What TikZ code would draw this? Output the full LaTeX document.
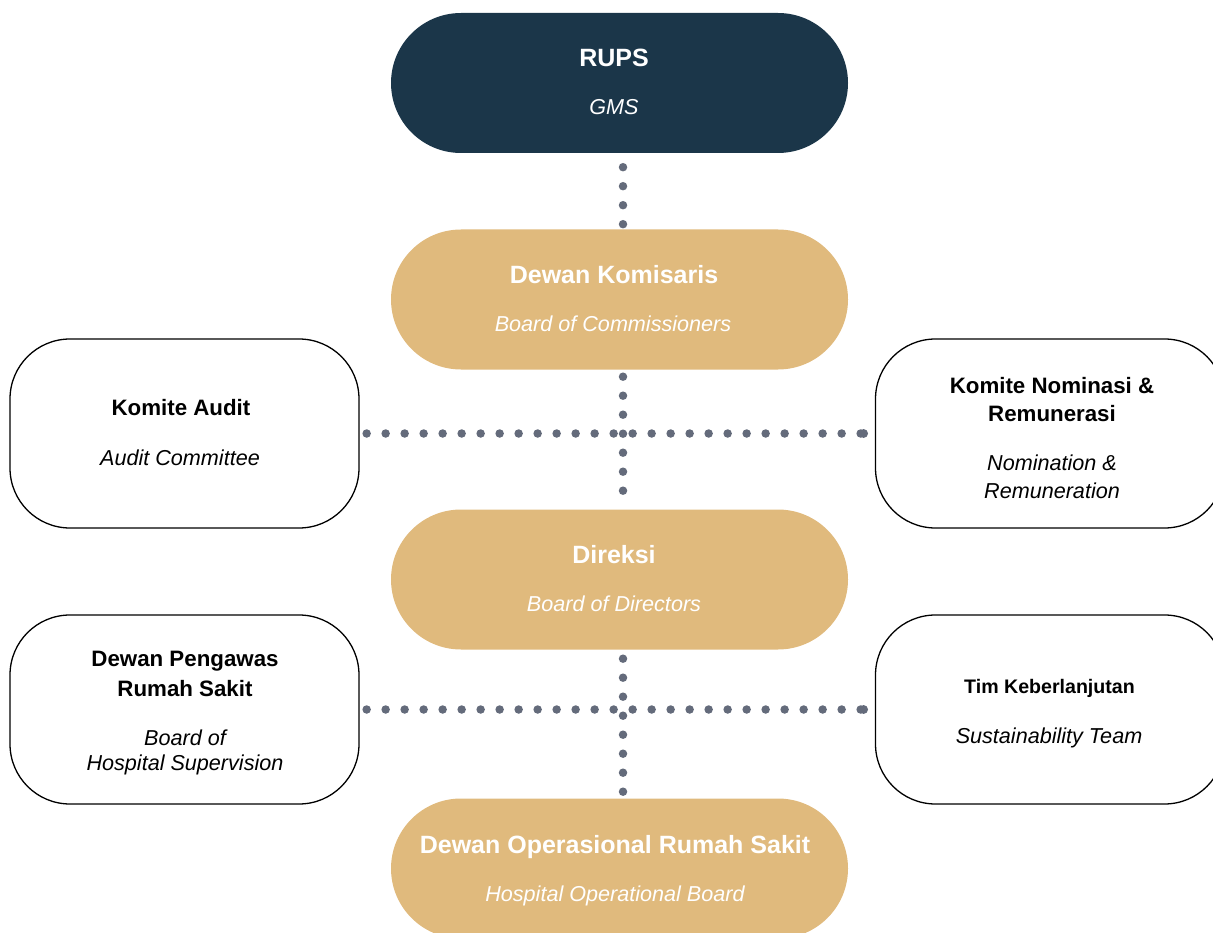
\documentclass[tikz,border=0pt]{standalone}
\usepackage{fontspec}
\setmainfont{Liberation Sans}
\usetikzlibrary{backgrounds,arrows.meta}
\definecolor{navy}{HTML}{1B3649}
\definecolor{gold}{HTML}{E0BA7D}
\definecolor{dotgray}{HTML}{646B7B}
\tikzset{
  pill/.style={rectangle, rounded corners=70pt, minimum width=457pt, minimum height=140pt, inner sep=0pt},
  navypill/.style={pill, fill=navy},
  goldpill/.style={pill, fill=gold},
  sidebox/.style={rectangle, draw=black, line width=1.3pt, fill=white, rounded corners=60pt,
                  minimum width=349pt, minimum height=189pt, inner sep=0pt},
  txt/.style={anchor=base, inner sep=0pt},
  wtitle/.style={txt, text=white, font=\fontsize{25}{28}\selectfont\bfseries},
  wsub/.style={txt, text=white, font=\fontsize{21.6}{26}\selectfont\itshape},
  btitle/.style={txt, text=black, font=\fontsize{22.3}{28}\selectfont\bfseries},
  bsmall/.style={txt, text=black, font=\fontsize{19.6}{24}\selectfont\bfseries},
  bsub/.style={txt, text=black, font=\fontsize{21.6}{28}\selectfont\itshape},
  dotline/.style={draw=dotgray, line width=8.5pt, line cap=round, dash pattern=on 0pt off 19pt},
}
\begin{document}
\begin{tikzpicture}[x=1pt, y=-1pt]
  \useasboundingbox (0,0) rectangle (1213,933);
  \clip (0,0) rectangle (1213,933);

  % main chain
  \node[navypill] (rups) at (619.5,83) {};
  \node[goldpill] (kom)  at (619.5,299.5) {};
  \node[goldpill] (dir)  at (619.5,579.5) {};
  \node[goldpill] (dors) at (619.5,868.5) {};

  % committees and supporting bodies
  \node[sidebox] (audit) at (184.5,433.5) {};
  \node[sidebox] (nom)   at (1050,433.5) {};
  \node[sidebox] (peng)  at (184.5,709.5) {};
  \node[sidebox] (tim)   at (1050,709.5) {};

  \coordinate (spine) at (623,0);

  % dotted connectors
  \begin{scope}[on background layer]
    \draw[dotline, dash phase=5pt]  (rups.south -| spine) -- (kom.north -| spine);
    \draw[dotline, dash phase=12pt] (kom.south -| spine)  -- (dir.north -| spine);
    \draw[dotline, dash phase=10pt] (dir.south -| spine)  -- (dors.north -| spine);
    \draw[dotline, dash phase=12pt, shorten >=7pt, -{Circle[length=8.5pt,width=8.5pt]}] (audit.east) -- (nom.west);
    \draw[dotline, dash phase=12pt, shorten >=7pt, -{Circle[length=8.5pt,width=8.5pt]}] (peng.east) -- (tim.west);
  \end{scope}

  % labels
  \node[wtitle] (rupsT) at (614,67)  {RUPS};
  \node[wsub]   (rupsS) at (614,115) {GMS};
  \node[wtitle] (komT)  at (614,284) {Dewan Komisaris};
  \node[wsub]   (komS)  at (613,331) {Board of Commissioners};
  \node[wtitle] (dirT)  at (614,563) {Direksi};
  \node[wsub]   (dirS)  at (614,611) {Board of Directors};
  \node[wtitle] (dorsT) at (615,853) {Dewan Operasional Rumah Sakit};
  \node[wsub]   (dorsS) at (615,901) {Hospital Operational Board};

  \node[btitle] (auditT) at (181,415) {Komite Audit};
  \node[bsub]   (auditS) at (180,465) {Audit Committee};

  \node[btitle] (nomT1) at (1052,393) {Komite Nominasi \&};
  \node[btitle] (nomT2) at (1052,421) {Remunerasi};
  \node[bsub]   (nomS1) at (1052,470) {Nomination \&};
  \node[bsub]   (nomS2) at (1052,498) {Remuneration};

  \node[btitle] (pengT1) at (185,666) {Dewan Pengawas};
  \node[btitle] (pengT2) at (185,696) {Rumah Sakit};
  \node[bsub]   (pengS1) at (185,745) {Board of};
  \node[bsub]   (pengS2) at (185,770) {Hospital Supervision};

  \node[bsmall] (timT) at (1049.5,693) {Tim Keberlanjutan};
  \node[bsub]   (timS) at (1049,743) {Sustainability Team};
\end{tikzpicture}
\end{document}
